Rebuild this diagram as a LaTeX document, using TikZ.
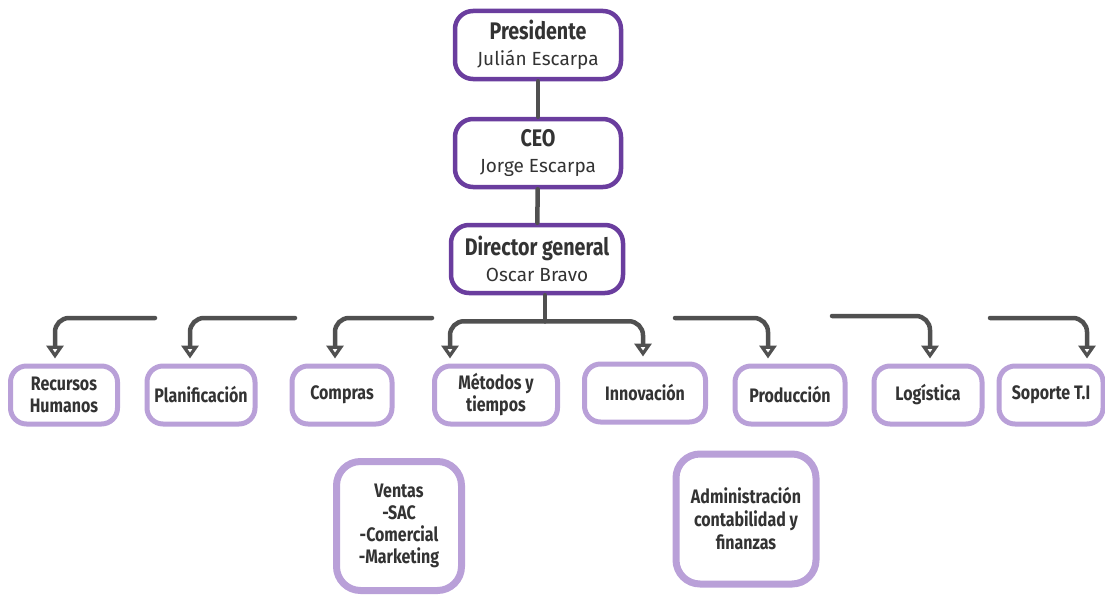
\documentclass[tikz,border=0pt]{standalone}
\usepackage{fontspec}
\setmainfont{Fira Sans}
\newfontfamily\narrowfont[FakeStretch=0.82]{Fira Sans}
\usetikzlibrary{positioning,arrows.meta}
\definecolor{deeppurple}{HTML}{6A3D9E}
\definecolor{softpurple}{HTML}{B9A0D8}
\definecolor{linkgray}{HTML}{505050}
\definecolor{inkgray}{HTML}{333333}
\tikzset{
	chief/.style={draw=deeppurple, line width=4.5pt, rounded corners=18pt, fill=white, minimum width=166pt, minimum height=68pt, align=center, text=inkgray, font=\fontsize{19}{26}\selectfont, inner sep=2pt},
	unit/.style={draw=softpurple, line width=5pt, rounded corners=16pt, fill=white, minimum height=58pt, align=center, text=inkgray, font=\narrowfont\bfseries\fontsize{19.5}{22}\selectfont, inner sep=2pt},
	wide/.style={unit, line width=7pt, rounded corners=24pt},
	link/.style={draw=linkgray, line width=4.5pt, line cap=round},
	feed/.style={link, rounded corners=14pt, -{Triangle[fill=white, width=17pt, length=13pt]}, shorten >=5pt},
}
\newcommand{\rank}[1]{{\narrowfont\bfseries\fontsize{24}{26}\selectfont #1}}

\begin{document}
\begin{tikzpicture}[x=1pt, y=-1pt]
		\useasboundingbox (0,0) rectangle (1105,594);
		% top chain
		\node[chief] (pres) at (538,45) {\rank{Presidente}\\Julián Escarpa};
		\node[chief] (ceo) at (538,153) {\rank{CEO}\\Jorge Escarpa};
		\node[chief, minimum width=172pt] (dir) at (537,259) {\rank{Director general}\\Oscar Bravo};
		\draw[link] (pres) -- (ceo);
		\draw[link] (ceo) -- (dir);
		% areas
		\node[unit, minimum width=107pt] (rrhh) at (64,395) {Recursos\\Humanos};
		\node[unit, minimum width=108pt] (plan) at (201,395) {Planificación};
		\node[unit, minimum width=100pt] (comp) at (342,395) {Compras};
		\node[unit, minimum width=123pt] (met) at (496,395) {Métodos y\\tiempos};
		\node[unit, minimum width=121pt] (inn) at (645,393) {Innovación};
		\node[unit, minimum width=110pt] (prod) at (790,395) {Producción};
		\node[unit, minimum width=108pt] (log) at (928,395) {Logística};
		\node[unit, minimum width=104pt] (sop) at (1051,395) {Soporte T.I};
		\node[wide, minimum width=125pt, minimum height=129pt] (ventas) at (399,526) {Ventas\\-SAC\\-Comercial\\-Marketing};
		\node[wide, minimum width=140pt, minimum height=130pt, font=\narrowfont\bfseries\fontsize{19.5}{23}\selectfont] (adm) at (746,519) {Administración\\contabilidad y\\finanzas};
		% connectors
		\draw[link] ([xshift=8pt]dir.south) -- ++(0,26) coordinate (hub);
		\draw[feed] (hub) -| ([xshift=-46pt]met.north);
		\draw[feed] (hub) -| ([xshift=-2pt]inn.north);
		\coordinate (rrhhs) at (155,318);
		\coordinate (plans) at (295,318);
		\coordinate (comps) at (432,318);
		\coordinate (prods) at (675,318);
		\coordinate (logs) at (832,316);
		\coordinate (sops) at (990,318);
		\draw[feed] (rrhhs) -| ([xshift=-9pt]rrhh.north);
		\draw[feed] (plans) -| ([xshift=-11pt]plan.north);
		\draw[feed] (comps) -| ([xshift=-7pt]comp.north);
		\draw[feed] (prods) -| ([xshift=-22pt]prod.north);
		\draw[feed] (logs) -| ([xshift=2pt]log.north);
		\draw[feed] (sops) -| ([xshift=36pt]sop.north);
	\end{tikzpicture}
\end{document}
